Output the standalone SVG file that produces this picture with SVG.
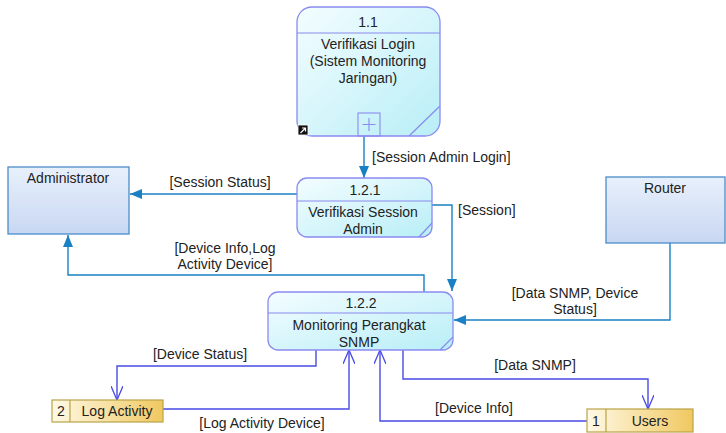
<svg xmlns="http://www.w3.org/2000/svg" width="726" height="433" viewBox="0 0 726 433">
  <defs>
    <linearGradient id="gProc" x1="0" y1="0" x2="1" y2="1">
      <stop offset="0" stop-color="#f4fdff"/>
      <stop offset="1" stop-color="#b8eef7"/>
    </linearGradient>
    <linearGradient id="gExt" x1="0" y1="0" x2="0" y2="1">
      <stop offset="0" stop-color="#e8f0fb"/>
      <stop offset="1" stop-color="#c8d7f2"/>
    </linearGradient>
    <linearGradient id="gStore" x1="0" y1="0" x2="1" y2="0">
      <stop offset="0" stop-color="#fff9e6"/>
      <stop offset="1" stop-color="#f0c860"/>
    </linearGradient>
    <marker id="aFill" viewBox="0 0 12 10" refX="12" refY="5" markerWidth="12" markerHeight="10" markerUnits="userSpaceOnUse" orient="auto">
      <path d="M0,0 L12,5 L0,10 Z" fill="#1a80c4"/>
    </marker>
    <marker id="aOpen" viewBox="0 0 14 12" refX="14" refY="6" markerWidth="14" markerHeight="12" markerUnits="userSpaceOnUse" orient="auto">
      <path d="M0,0 L14,6 L0,12" fill="none" stroke="#4a4ae6" stroke-width="1.3"/>
    </marker>
  </defs>
  <style>
    text { font-family: "Liberation Sans", Arial, sans-serif; font-size: 14px; fill: #222; }
    .c { text-anchor: middle; }
    .proc { fill: url(#gProc); stroke: #8a8af0; stroke-width: 1.3; }
    .pline { stroke: #8a8af0; stroke-width: 1.2; fill: none; }
    .ext { fill: url(#gExt); stroke: #4a8cc8; stroke-width: 1.3; }
    .store { fill: url(#gStore); stroke: #b8a448; stroke-width: 1.2; }
    .flowT { fill: none; stroke: #1a80c4; stroke-width: 1.4; marker-end: url(#aFill); }
    .flowB { fill: none; stroke: #4a4ae6; stroke-width: 1.4; marker-end: url(#aOpen); }
  </style>

  <!-- connectors -->
  <g id="connectors">
    <path class="flowT" d="M364,136 L364,178"/>
    <text x="372" y="162">[Session Admin Login]</text>

    <path class="flowT" d="M297,194 L130,194"/>
    <text x="220" y="187" class="c">[Session Status]</text>

    <path class="flowT" d="M424,292 L424,275 L68,275 L68,235"/>
    <text x="225" y="253" class="c">[Device Info,Log</text>
    <text x="225" y="269" class="c">Activity Device]</text>

    <path class="flowT" d="M432,205 L452,205 L452,291"/>
    <text x="458" y="215">[Session]</text>

    <path class="flowT" d="M670,243 L670,320 L454,320"/>
    <text x="575" y="298" class="c">[Data SNMP, Device</text>
    <text x="575" y="314" class="c">Status]</text>

    <path class="flowB" d="M316,350 L316,366 L117,366 L117,400"/>
    <text x="200" y="359" class="c">[Device Status]</text>

    <path class="flowB" d="M163,409 L349,409 L349,350"/>
    <text x="262" y="428" class="c">[Log Activity Device]</text>

    <path class="flowB" d="M403,350 L403,379 L648,379 L648,409"/>
    <text x="535" y="370" class="c">[Data SNMP]</text>

    <path class="flowB" d="M587,421 L380,421 L380,350"/>
    <text x="474" y="413" class="c">[Device Info]</text>
  </g>

  <!-- process 1.1 -->
  <g id="p1_1">
    <rect class="proc" x="297" y="7" width="143" height="129" rx="15"/>
    <line class="pline" x1="297" y1="33" x2="440" y2="33"/>
    <line class="pline" x1="440" y1="106" x2="409" y2="136"/>
    <text x="368" y="27" class="c">1.1</text>
    <text x="368" y="49" class="c">Verifikasi Login</text>
    <text x="368" y="66" class="c">(Sistem Monitoring</text>
    <text x="368" y="83" class="c">Jaringan)</text>
    <rect x="358" y="113" width="22" height="23" fill="none" stroke="#8a8af0" stroke-width="1.1"/>
    <path d="M369,118 L369,131 M362.5,124.5 L375.5,124.5" stroke="#8a8af0" stroke-width="1.1"/>
    <rect x="298" y="125" width="10" height="10" fill="#111" stroke="#fff" stroke-width="0.8"/>
    <path d="M300.5,133 L305,128.5 M302,128 L305.5,128 L305.5,131.5" stroke="#fff" stroke-width="1.2" fill="none"/>
  </g>

  <!-- process 1.2.1 -->
  <g id="p1_2_1">
    <rect class="proc" x="297" y="178" width="135" height="59" rx="10"/>
    <line class="pline" x1="297" y1="201" x2="432" y2="201"/>
    <line class="pline" x1="432" y1="223" x2="419" y2="237"/>
    <text x="365" y="195" class="c">1.2.1</text>
    <text x="363" y="217" class="c">Verifikasi Session</text>
    <text x="363" y="234" class="c">Admin</text>
  </g>

  <!-- process 1.2.2 -->
  <g id="p1_2_2">
    <rect class="proc" x="268" y="292" width="185" height="58" rx="10"/>
    <line class="pline" x1="268" y1="313" x2="453" y2="313"/>
    <line class="pline" x1="453" y1="337" x2="440" y2="350"/>
    <text x="361" y="308" class="c">1.2.2</text>
    <text x="359" y="330" class="c">Monitoring Perangkat</text>
    <text x="359" y="347" class="c">SNMP</text>
  </g>

  <!-- external entities -->
  <g id="administrator">
    <rect class="ext" x="8" y="167" width="121" height="67"/>
    <text x="68" y="183" class="c">Administrator</text>
  </g>
  <g id="router">
    <rect class="ext" x="606" y="177" width="119" height="66"/>
    <text x="665" y="193" class="c">Router</text>
  </g>

  <!-- data stores -->
  <g id="logActivity">
    <rect class="store" x="52" y="400" width="111" height="22"/>
    <line x1="70" y1="400" x2="70" y2="422" stroke="#b8a448" stroke-width="1.2"/>
    <text x="61" y="416" class="c">2</text>
    <text x="117" y="416" class="c">Log Activity</text>
  </g>
  <g id="users">
    <rect class="store" x="587" y="409" width="106" height="23"/>
    <line x1="606" y1="409" x2="606" y2="432" stroke="#b8a448" stroke-width="1.2"/>
    <text x="596" y="426" class="c">1</text>
    <text x="650" y="426" class="c">Users</text>
  </g>
</svg>
